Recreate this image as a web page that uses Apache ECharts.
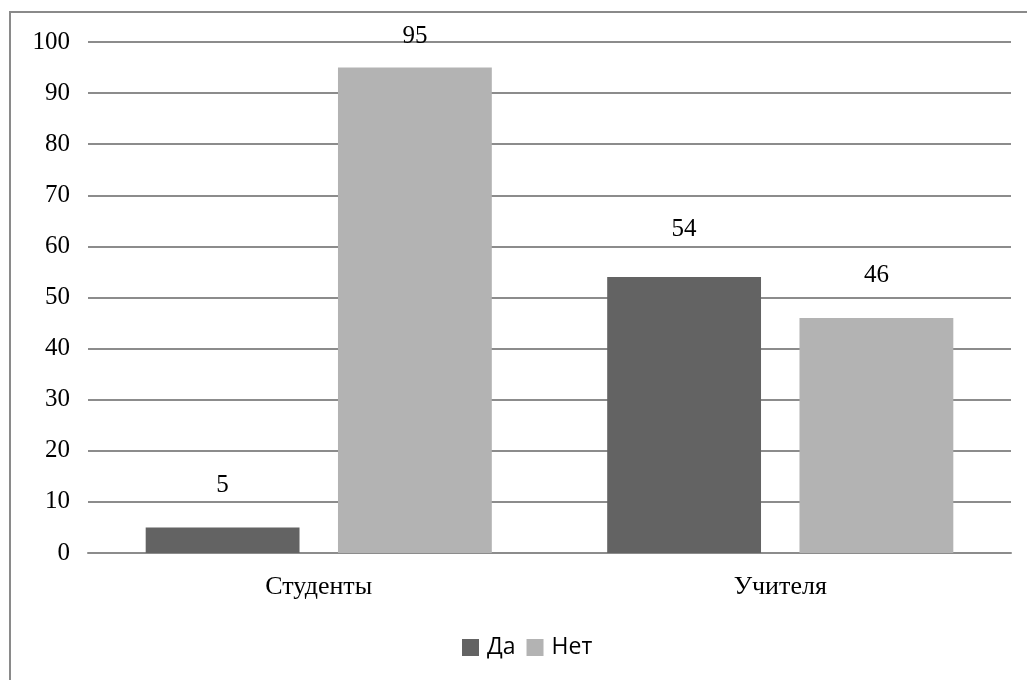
<!DOCTYPE html>
<html>
<head>
<meta charset="utf-8">
<script src="https://cdn.jsdelivr.net/npm/echarts@6/dist/echarts.min.js"></script>
<style>
  html, body { margin: 0; padding: 0; background: #fff; }
  #chart { width: 1027px; height: 680px; }
</style>
</head>
<body>
<div id="chart"></div>
<script>
// Survey answers, percent
const categories = ['Студенты', 'Учителя'];
const seriesNames = ['Да', 'Нет'];
const yesValues = [5, 54];
const noValues = [95, 46];

// Gap (px) between each bar top and its value label
const yesLabelGap = [30, 35];
const noLabelGap = [19, 30];

const serif = '"Liberation Serif", "Times New Roman", serif';
const sans = '"Open Sans", "Liberation Sans", sans-serif';

function withLabels(values, gaps) {
  return values.map((v, i) => ({ value: v, label: { distance: gaps[i] } }));
}

const chart = echarts.init(document.getElementById('chart'), null, { renderer: 'canvas' });

chart.setOption({
  animation: false,
  backgroundColor: '#ffffff',
  graphic: [{
    type: 'rect',
    shape: { x: 10, y: 12, width: 1040, height: 700 },
    style: { fill: 'none', stroke: '#8a8a8a', lineWidth: 2 },
    silent: true
  }],
  grid: { left: 88, right: 16, top: 42, bottom: 127, containLabel: false },
  legend: {
    data: seriesNames,
    bottom: 16,
    left: 457,
    itemWidth: 17,
    itemHeight: 17,
    itemGap: 11,
    icon: 'rect',
    textStyle: { fontFamily: sans, fontSize: 23, color: '#000', padding: [0, 0, 0, 3] }
  },
  xAxis: {
    type: 'category',
    data: categories,
    axisLine: { show: true, lineStyle: { color: '#8c8c8c', width: 2 } },
    axisTick: { show: false },
    axisLabel: { fontFamily: serif, fontSize: 26, color: '#000', margin: 21 }
  },
  yAxis: {
    type: 'value',
    min: 0,
    max: 100,
    interval: 10,
    axisLine: { show: false },
    axisTick: { show: false },
    splitLine: { lineStyle: { color: '#8c8c8c', width: 2 } },
    axisLabel: { fontFamily: serif, fontSize: 25, color: '#000', margin: 18 }
  },
  series: [
    {
      name: seriesNames[0],
      type: 'bar',
      data: withLabels(yesValues, yesLabelGap),
      itemStyle: { color: '#636363' },
      barGap: '25%',
      barCategoryGap: '25%',
      label: { show: true, position: 'top', fontFamily: serif, fontSize: 25, color: '#000' }
    },
    {
      name: seriesNames[1],
      type: 'bar',
      data: withLabels(noValues, noLabelGap),
      itemStyle: { color: '#b3b3b3' },
      barGap: '25%',
      barCategoryGap: '25%',
      label: { show: true, position: 'top', fontFamily: serif, fontSize: 25, color: '#000' }
    }
  ]
});
</script>
</body>
</html>
